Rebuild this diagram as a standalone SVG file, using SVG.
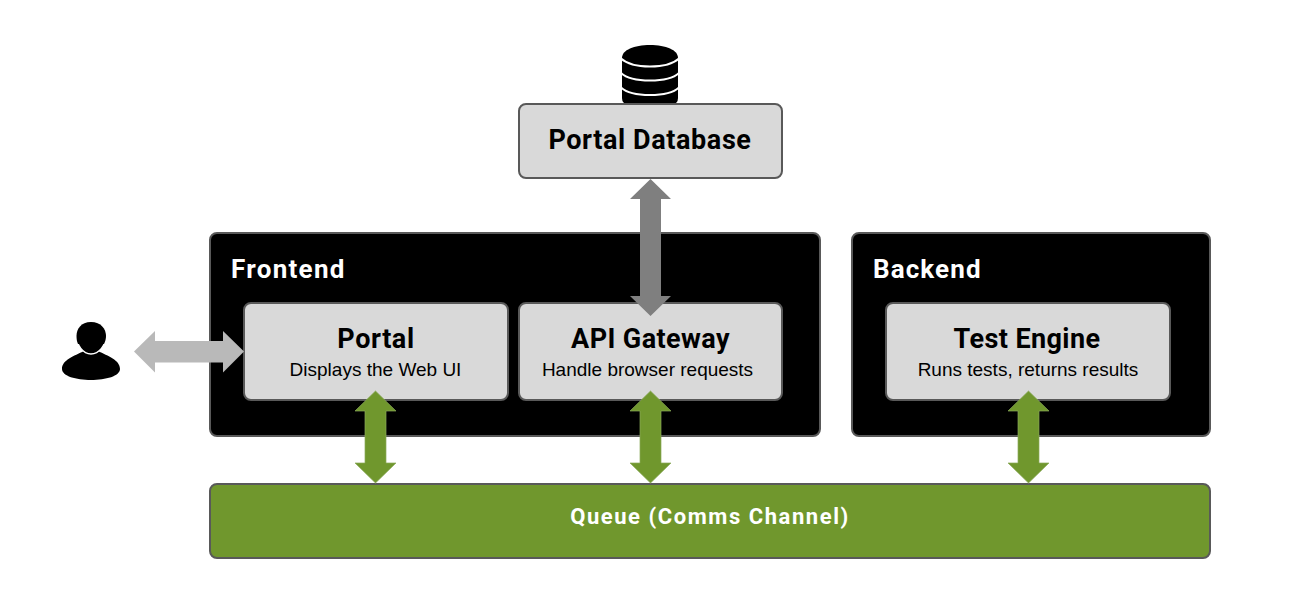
<svg xmlns="http://www.w3.org/2000/svg" width="1300" height="614" viewBox="0 0 1300 614">
<style>
.box{stroke:#595959;stroke-width:2}
.group{fill:#000}
.card{fill:#d9d9d9}
.title{font-family:Roboto,"Liberation Sans",sans-serif;font-weight:700}
.sub{font-family:"Liberation Sans",Arial,sans-serif;font-size:19px;fill:#000;text-anchor:middle}
.green{fill:#70972d;stroke:#8aa95a;stroke-width:.7}
</style>
<rect width="1300" height="614" fill="#fff"/>
<g id="frontend"><rect class="box group" x="210" y="233" width="610" height="203" rx="7"/>
<text class="title" x="231" y="278" font-size="26" fill="#fff" letter-spacing="1.300">Frontend</text></g>
<g id="backend"><rect class="box group" x="852" y="233" width="358" height="203" rx="7"/>
<text class="title" x="873" y="278" font-size="26" fill="#fff" letter-spacing="1.100">Backend</text></g>
<g id="db-icon">
<path d="M622 58C622 50 634 45 650 45S678 50 678 58V98Q678 104 672 104H628Q622 104 622 98Z" fill="#000"/>
<path d="M621 58.500C627 64 638 66.500 650 66.500S673 64 679 58.500M621 73C627 78.500 638 80.500 650 80.500S673 78.500 679 73M621 87.500C627 93 638 95 650 95S673 93 679 87.500" fill="none" stroke="#fff" stroke-width="2"/>
</g>
<g id="portal-database"><rect class="box card" x="519" y="104" width="263" height="74" rx="7"/>
<text class="title" x="650" y="149" font-size="27" text-anchor="middle" letter-spacing=".6">Portal Database</text></g>
<g id="portal"><rect class="box card" x="244" y="303" width="264" height="97" rx="7"/>
<text class="title" x="376" y="348" font-size="27" text-anchor="middle" letter-spacing=".6">Portal</text>
<text class="sub" x="375.500" y="376">Displays the Web UI</text></g>
<g id="api-gateway"><rect class="box card" x="519" y="303" width="263" height="97" rx="7"/>
<text class="title" x="650.500" y="348" font-size="27" text-anchor="middle" letter-spacing=".4">API Gateway</text>
<text class="sub" x="647.500" y="376">Handle browser requests</text></g>
<g id="test-engine"><rect class="box card" x="886" y="303" width="284" height="97" rx="7"/>
<text class="title" x="1027" y="348" font-size="27" text-anchor="middle" letter-spacing=".4">Test Engine</text>
<text class="sub" x="1028" y="376">Runs tests, returns results</text></g>
<g id="queue"><rect class="box" fill="#70972d" x="210" y="484" width="1000" height="74" rx="7"/>
<text class="title" x="710" y="524" font-size="22" fill="#fff" text-anchor="middle" letter-spacing="1.550">Queue (Comms Channel)</text></g>
<g id="user">
<path d="M62 369C62 360 74 356 84 351H98C108 356 120 360 120 369C120 376 106 380 91 380S62 376 62 369Z" fill="#000"/>
<path d="M91 322C101 322 106 329 106 336C106 345 99 354 91 354S76.500 345 76.500 336C76.500 329 81 322 91 322Z" fill="#000" stroke="#fff" stroke-width="1.500"/>
<path d="M91 322C101 322 106 329 106 336C106 339 105 342 104 344H78C77 342 76.500 339 76.500 336C76.500 329 81 322 91 322Z" fill="#000"/>
</g>
<g id="connectors">
<path fill="#b9b9b9" d="M134 351.500L155 331V341H223V331L244 351.500L223 372.500V362.500H155V372.500Z"/>
<path fill="#7f7f7f" d="M650.500 179L671 199H661V296H671L650.500 316L630 296H640V199H630Z"/>
<path class="green" d="M375.500 391L396 411H386V463H396L375.500 483L355 463H365V411H355Z"/>
<path class="green" d="M650.500 391L671 411H661V463H671L650.500 483L630 463H640V411H630Z"/>
<path class="green" d="M1028.500 391L1049 411H1039V463H1049L1028.500 483L1008 463H1018V411H1008Z"/>
</g>
</svg>
